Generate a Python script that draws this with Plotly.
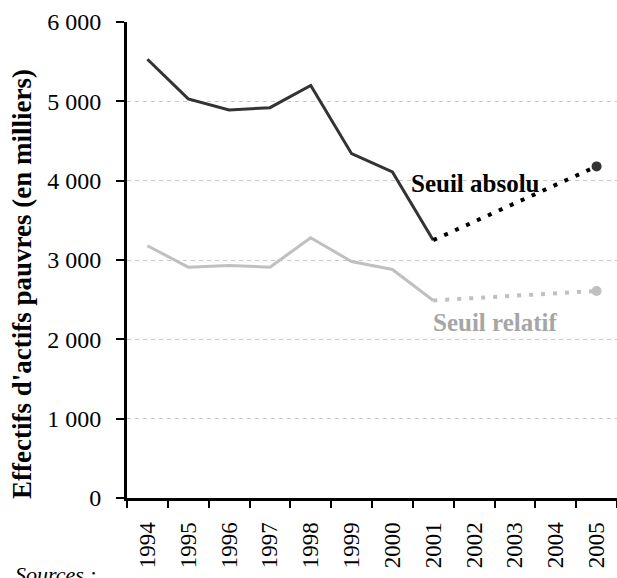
import plotly.graph_objects as go

years = ["1994", "1995", "1996", "1997", "1998", "1999", "2000", "2001",
         "2002", "2003", "2004", "2005"]

# observed series 1994-2001
obs_years = years[:8]
absolu = [5530, 5030, 4890, 4920, 5200, 4340, 4110, 3250]
relatif = [3180, 2910, 2930, 2910, 3280, 2980, 2880, 2490]

# projection 2001 -> 2005
proj_years = ["2001", "2005"]
absolu_proj = [3250, 4180]
relatif_proj = [2490, 2610]

y_ticks = [0, 1000, 2000, 3000, 4000, 5000, 6000]
y_labels = ["0", "1 000", "2 000", "3 000", "4 000", "5 000", "6 000"]

DARK = "#333333"
LIGHT = "#c0c0c0"
FONT = "Liberation Serif"

fig = go.Figure()

fig.add_trace(go.Scatter(x=obs_years, y=relatif, mode="lines",
                         line=dict(color=LIGHT, width=3), showlegend=False))
fig.add_trace(go.Scatter(x=proj_years, y=relatif_proj, mode="lines",
                         line=dict(color=LIGHT, width=4, dash="4px,8px"),
                         showlegend=False))
fig.add_trace(go.Scatter(x=[proj_years[-1]], y=[relatif_proj[-1]], mode="markers",
                         marker=dict(color=LIGHT, size=10), showlegend=False))

fig.add_trace(go.Scatter(x=obs_years, y=absolu, mode="lines",
                         line=dict(color=DARK, width=3), showlegend=False))
fig.add_trace(go.Scatter(x=proj_years, y=absolu_proj, mode="lines",
                         line=dict(color="black", width=4, dash="4px,8px"),
                         showlegend=False))
fig.add_trace(go.Scatter(x=[proj_years[-1]], y=[absolu_proj[-1]], mode="markers",
                         marker=dict(color=DARK, size=10), showlegend=False))

fig.add_annotation(x=8.03, y=3970, text="<b>Seuil absolu</b>", showarrow=False,
                   font=dict(family=FONT, size=25, color="black"))
fig.add_annotation(x=8.53, y=2210, text="<b>Seuil relatif</b>", showarrow=False,
                   font=dict(family=FONT, size=25, color="#a6a6a6"))
fig.add_annotation(xref="paper", yref="paper", x=-0.214, y=0.45,
                   xanchor="center", yanchor="middle",
                   text="<b>Effectifs d'actifs pauvres (en milliers)</b>",
                   textangle=-90, showarrow=False,
                   font=dict(family=FONT, size=27, color="black"))
fig.add_annotation(xref="paper", yref="paper", x=-0.233, y=-0.13,
                   xanchor="left", yanchor="top", text="<i>Sources :</i>",
                   showarrow=False, font=dict(family=FONT, size=22, color="black"))

fig.update_layout(
    width=617, height=578,
    margin=dict(l=127, r=0, t=22, b=80),
    paper_bgcolor="white", plot_bgcolor="white",
    font=dict(family=FONT, color="black"),
    xaxis=dict(type="category", categoryorder="array", categoryarray=years,
               range=[-0.5, 11.5], tickson="boundaries", ticks="outside",
               ticklen=7, tickwidth=2, tickcolor="black", tickangle=-90,
               showline=True, linecolor="black", linewidth=3,
               showgrid=False, tickfont=dict(family=FONT, size=23),
               ticklabelstandoff=12, automargin=False),
    yaxis=dict(range=[0, 6000], tickvals=y_ticks, ticktext=y_labels,
               ticks="outside", ticklen=8, tickwidth=2, tickcolor="black",
               showline=True, linecolor="black", linewidth=3,
               showgrid=True, gridcolor="#c8c8c8", gridwidth=1, griddash="4px,4px",
               zeroline=False, tickfont=dict(family=FONT, size=24),
               ticklabelstandoff=10, automargin=False),
)

fig.write_html("out.html", config={"displayModeBar": False},
               post_script="document.body.style.margin='0';")
